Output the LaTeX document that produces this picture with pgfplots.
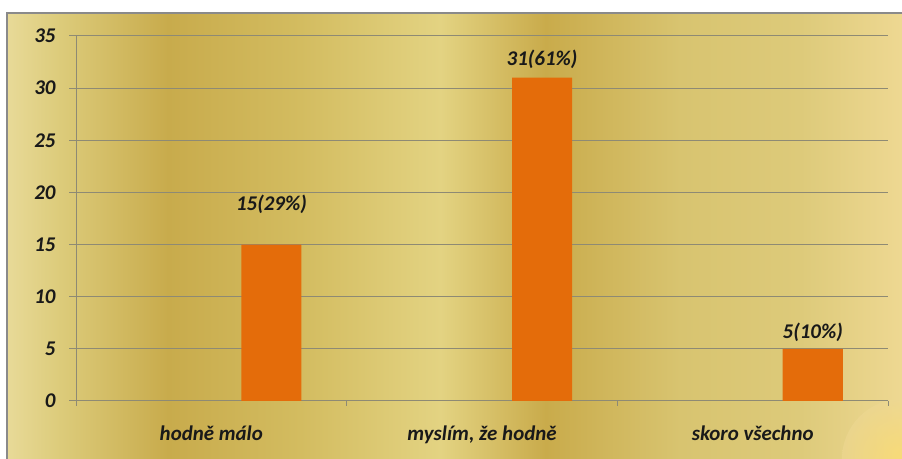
\documentclass[border=0pt]{standalone}
\usepackage{pgfplots}
\pgfplotsset{compat=1.18}
\usepackage{fontspec}
\setmainfont{Carlito}

\definecolor{barorange}{HTML}{E46C0A}
\definecolor{gridgray}{HTML}{8E8A74}
\definecolor{framegray}{HTML}{8A8A8A}
\definecolor{g1}{HTML}{E8DA98}
\definecolor{g2}{HTML}{DCCB7A}
\definecolor{g3}{HTML}{C8AB4C}
\definecolor{g4}{HTML}{D3BC60}
\definecolor{g5}{HTML}{E3D382}
\definecolor{g6}{HTML}{C9AB4B}
\definecolor{g7}{HTML}{D8C470}
\definecolor{g8}{HTML}{DDCA7A}
\definecolor{g9}{HTML}{EED892}

% golden backdrop, stops between 25bp and 75bp (the part TikZ fits to the path)
\pgfdeclarehorizontalshading{gold}{100bp}{color(0bp)=(g1); color(25bp)=(g1);
  color(28bp)=(g2); color(34bp)=(g3); color(41.4bp)=(g4); color(49.2bp)=(g5);
  color(55.1bp)=(g6); color(62.6bp)=(g7); color(69.3bp)=(g8); color(75bp)=(g9);
  color(100bp)=(g9)}

\newcommand{\lbl}{\fontsize{21}{25}\selectfont\bfseries\itshape}

\begin{document}
\begin{tikzpicture}[x=1bp,y=1bp]
\useasboundingbox (0,0) rectangle (902,459);
\fill[white] (0,0) rectangle (902,459);
\shade[shading=gold] (7,0) rectangle (902,446);
% warm glow in the lower right corner
\shade[inner color=orange!45!yellow!60, outer color=g9, opacity=0.6]
  (902,0) circle (60);
\draw[framegray, line width=2bp] (7,0) -- (7,446) -- (902,446);

\begin{axis}[
  at={(76bp,58bp)}, anchor=south west,
  scale only axis, width=812bp, height=365bp,
  xmin=-0.5, xmax=2.5, ymin=0, ymax=35,
  axis x line*=bottom, axis y line*=left,
  axis line style={gridgray, line width=1bp},
  ytick={0,5,...,35},
  ymajorgrids, grid style={gridgray, line width=1bp},
  xtick={0,1,2},
  xticklabels={hodně málo, {myslím, že hodně}, skoro všechno},
  major x tick style={draw=none},
  minor xtick={-0.5,0.5,1.5,2.5},
  minor x tick style={gridgray, line width=1bp},
  major y tick style={gridgray, line width=1bp},
  tick align=outside,
  major tick length=7bp, minor tick length=5bp,
  ticklabel style={font=\lbl, text=black!90},
  /pgf/number format/assume math mode=true,
  xticklabel style={yshift=-14bp},
  yticklabel style={xshift=-10bp},
]
\addplot[ybar, bar width=0.222, fill=barorange, draw=none]
  coordinates {(0.222,15) (1.222,31) (2.222,5)};
\node[font=\lbl, text=black!90] at (axis cs:0.222,18.9) {15(29\%)};
\node[font=\lbl, text=black!90] at (axis cs:1.222,32.8) {31(61\%)};
\node[font=\lbl, text=black!90] at (axis cs:2.222,6.6) {5(10\%)};
\end{axis}
\end{tikzpicture}
\end{document}
